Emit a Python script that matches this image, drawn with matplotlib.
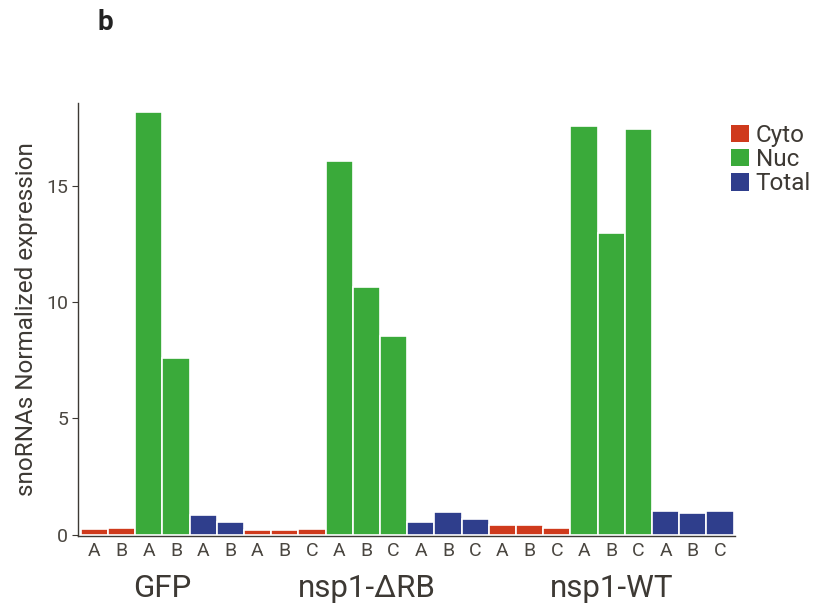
import matplotlib
matplotlib.use("Agg")
import matplotlib.pyplot as plt
from matplotlib.patches import Patch
import numpy as np

groups = ["GFP", "nsp1-\u0394RB", "nsp1-WT"]
fractions = ["Cyto", "Nuc", "Total"]
replicates = {"GFP": ["A", "B"], "nsp1-\u0394RB": ["A", "B", "C"], "nsp1-WT": ["A", "B", "C"]}

gfp_cyto = [0.25, 0.28]
gfp_nuc = [18.15, 7.6]
gfp_total = [0.83, 0.53]
drb_cyto = [0.18, 0.18, 0.22]
drb_nuc = [16.05, 10.65, 8.55]
drb_total = [0.56, 0.96, 0.66]
wt_cyto = [0.40, 0.40, 0.27]
wt_nuc = [17.55, 12.95, 17.45]
wt_total = [1.03, 0.92, 1.03]

data = {
    "GFP": [gfp_cyto, gfp_nuc, gfp_total],
    "nsp1-\u0394RB": [drb_cyto, drb_nuc, drb_total],
    "nsp1-WT": [wt_cyto, wt_nuc, wt_total],
}
colors = {"Cyto": "#CF3A1C", "Nuc": "#3AAA3A", "Total": "#2F3E8C"}
text_color = "#3d3934"
tick_color = "#4a4640"

plt.rcParams['font.family'] = ['Roboto', 'DejaVu Sans']

fig = plt.figure(figsize=(8.16, 6.09), dpi=100)
ax = fig.add_axes([78/816, (609-536)/609, (735-78)/816, (536-103)/609])

pos = 0
xticks, xlabels, group_centers = [], [], []
for g in groups:
    start = pos
    for fi, f in enumerate(fractions):
        vals = data[g][fi]
        for r, v in zip(replicates[g], vals):
            ax.bar(pos, v, width=1.0, color=colors[f], edgecolor="white", linewidth=1.2)
            xticks.append(pos)
            xlabels.append(r)
            pos += 1
    group_centers.append((start + pos - 1) / 2)

ax.set_xlim(-0.6, pos - 1 + 0.55)
ax.set_ylim(-0.06, 18.55)
ax.set_xticks(xticks)
ax.set_xticklabels(xlabels, fontsize=14, color=tick_color)
ax.set_yticks([0, 5, 10, 15])
ax.set_yticklabels(["0", "5", "10", "15"], fontsize=14, color=tick_color)
ax.tick_params(axis="x", length=0, pad=4)
ax.tick_params(axis="y", length=4, width=0.8, color=text_color, pad=3)
for s in ["top", "right"]:
    ax.spines[s].set_visible(False)
for s in ["left", "bottom"]:
    ax.spines[s].set_color(text_color)
    ax.spines[s].set_linewidth(1.0)

ax.set_ylabel("snoRNAs Normalized expression", fontsize=17.5, color=text_color, labelpad=6)

for g, c in zip(groups, group_centers):
    ax.text(c, -0.122, g, transform=ax.get_xaxis_transform(), ha="center", va="center",
            fontsize=22.5, color=text_color)

handles = [Patch(facecolor=colors[f], edgecolor="none", label=f) for f in fractions]
leg = fig.legend(handles=handles, loc="upper left", bbox_to_anchor=(731/816, 1 - 124/609),
                 frameon=False, fontsize=17.5, handlelength=0.72, handleheight=0.72,
                 handletextpad=0.3, labelspacing=0.05, borderpad=0, borderaxespad=0)
for t in leg.get_texts():
    t.set_color(text_color)

fig.text(105/816, 1 - 22/609, "b", fontsize=20, fontweight="bold", color="#222222",
         ha="center", va="center")

fig.savefig("out.png", dpi=100)
